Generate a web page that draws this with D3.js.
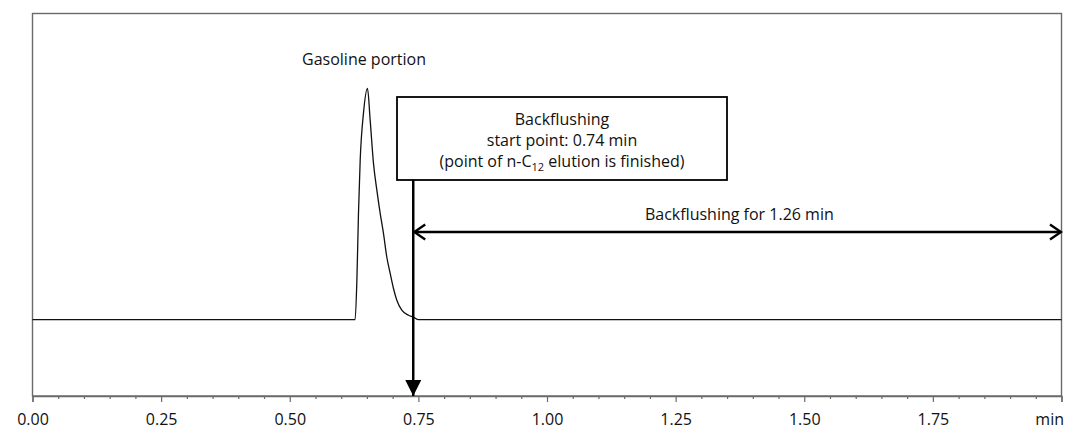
<!DOCTYPE html>
<html>
<head>
<meta charset="utf-8">
<script src="https://cdn.jsdelivr.net/npm/d3@7"></script>
<style>
  body { margin: 0; background: #fff; }
  text { font-family: "Open Sans", sans-serif; fill: #111; }
</style>
</head>
<body>
<div id="corpo"></div>
<script>
// chromatogram trace (time in min, signal with peak = 100)
var timeMin = [0, 0.627, 0.6305, 0.6336, 0.6369, 0.6433, 0.6511, 0.6563, 0.6627, 0.6693, 0.6757,
               0.6821, 0.6887, 0.6951, 0.7015, 0.7081, 0.7178, 0.7307, 0.7404, 0.7502, 2.0];
var signal  = [0, 0, 17.1, 46.1, 68.9, 89.3, 100, 86.3, 67.7, 56.0, 46.1,
               37.4, 27.0, 20.1, 13.6, 8.4, 4.1, 1.9, 1.1, 0, 0];

var majorTicks = [0, 0.25, 0.5, 0.75, 1.0, 1.25, 1.5, 1.75, 2.0];
var tickLabels = ["0.00", "0.25", "0.50", "0.75", "1.00", "1.25", "1.50", "1.75", "min"];
var minorStep = 0.05;

var backflushStart = 0.74;
var backflushEnd = 2.0;
var peakLabel = "Gasoline portion";
var boxLines = ["Backflushing", "start point: 0.74 min"];
var spanLabel = "Backflushing for 1.26 min";

var width = 1065, height = 432;
var margin = {left: 32.5, right: 3.5, top: 13.5, bottom: 36};
var fontSize = "16px";

var x = d3.scaleLinear()
    .domain([0, 2])
    .range([margin.left, width - margin.right]);
var y = d3.scaleLinear()
    .domain([-33, 132.4])
    .range([height - margin.bottom, margin.top]);

var svg = d3.select("#corpo").append("svg")
    .attr("width", width)
    .attr("height", height);

var defs = svg.append("defs");
defs.append("marker")
    .attr("id", "solidHead")
    .attr("markerUnits", "userSpaceOnUse")
    .attr("viewBox", "0 0 16 16")
    .attr("refX", 16).attr("refY", 8)
    .attr("markerWidth", 16).attr("markerHeight", 16)
    .attr("orient", "auto")
    .append("path")
    .attr("d", "M0,0L16,8L0,16Z")
    .style("fill", "#000");
defs.append("marker")
    .attr("id", "openHead")
    .attr("markerUnits", "userSpaceOnUse")
    .attr("viewBox", "0 0 14 18")
    .attr("refX", 12.5).attr("refY", 9)
    .attr("markerWidth", 14).attr("markerHeight", 18)
    .attr("orient", "auto-start-reverse")
    .append("path")
    .attr("d", "M1.5,1.5L12.5,9L1.5,16.5")
    .style("fill", "none")
    .style("stroke", "#000")
    .style("stroke-width", 2.4);

// frame
svg.append("rect")
    .attr("x", x(0)).attr("y", y(132.4))
    .attr("width", x(2) - x(0))
    .attr("height", y(-33) - y(132.4))
    .style("fill", "none")
    .style("stroke", "#6a6a6a")
    .style("stroke-width", 1.4);

// x axis with minor ticks
var minorTicks = d3.range(0, 2 + 1e-9, minorStep).filter(function(v) {
    return Math.abs(v / 0.25 - Math.round(v / 0.25)) > 1e-6;
});
var axisY = y(-33);
svg.append("g")
    .attr("transform", "translate(0," + axisY + ")")
    .call(d3.axisBottom(x).tickValues(minorTicks).tickSize(3).tickFormat(""))
    .call(function(g) { g.select(".domain").remove(); })
    .selectAll("line").style("stroke", "#6a6a6a").style("stroke-width", 1.2);
var xAxis = svg.append("g")
    .attr("transform", "translate(0," + axisY + ")")
    .call(d3.axisBottom(x).tickValues(majorTicks).tickSize(6).tickPadding(12)
        .tickFormat(function(d, i) { return tickLabels[i]; }));
xAxis.select(".domain").style("stroke", "#6a6a6a").style("stroke-width", 1.4);
xAxis.selectAll("line").style("stroke", "#6a6a6a").style("stroke-width", 1.2);
xAxis.selectAll("text")
    .style("font-family", "'Open Sans', sans-serif")
    .style("font-size", fontSize)
    .style("fill", "#111");
xAxis.selectAll("text").filter(function(d) { return d === 2; })
    .attr("text-anchor", "end")
    .attr("dx", 2);

// trace
var line = d3.line()
    .x(function(d, i) { return x(timeMin[i]); })
    .y(function(d) { return y(d); })
    .curve(d3.curveMonotoneX);
svg.append("path")
    .datum(signal)
    .attr("d", line)
    .style("fill", "none")
    .style("stroke", "#111")
    .style("stroke-width", 1.3);

svg.append("text")
    .attr("x", 364).attr("y", 65)
    .attr("text-anchor", "middle")
    .style("font-size", fontSize)
    .text(peakLabel);

// annotation box
var boxLeft = 397, boxTop = 97, boxW = 330, boxH = 83;
svg.append("rect")
    .attr("x", boxLeft).attr("y", boxTop)
    .attr("width", boxW).attr("height", boxH)
    .style("fill", "#fff")
    .style("stroke", "#000")
    .style("stroke-width", 1.8);
var cx = boxLeft + boxW / 2;
boxLines.forEach(function(t, i) {
    svg.append("text")
        .attr("x", cx).attr("y", 125 + i * 21)
        .attr("text-anchor", "middle")
        .style("font-size", fontSize)
        .text(t);
});
var l3 = svg.append("text")
    .attr("x", cx).attr("y", 167)
    .attr("text-anchor", "middle")
    .style("font-size", fontSize);
l3.append("tspan").text("(point of n-C");
l3.append("tspan").attr("dy", 4).style("font-size", "11px").text("12");
l3.append("tspan").attr("dy", -4).text(" elution is finished)");

// vertical arrow down to the axis
svg.append("line")
    .attr("x1", x(backflushStart)).attr("x2", x(backflushStart))
    .attr("y1", boxTop + boxH).attr("y2", axisY)
    .attr("marker-end", "url(#solidHead)")
    .style("stroke", "#000")
    .style("stroke-width", 2.5);

// double arrow for the backflush period
var spanY = 232;
svg.append("line")
    .attr("x1", x(backflushStart) + 1).attr("x2", x(backflushEnd) - 0.5)
    .attr("y1", spanY).attr("y2", spanY)
    .attr("marker-start", "url(#openHead)")
    .attr("marker-end", "url(#openHead)")
    .style("stroke", "#000")
    .style("stroke-width", 2.5);
svg.append("text")
    .attr("x", (x(backflushStart) + x(backflushEnd)) / 2 + 2).attr("y", 220)
    .attr("text-anchor", "middle")
    .style("font-size", fontSize)
    .text(spanLabel);
</script>
</body>
</html>
